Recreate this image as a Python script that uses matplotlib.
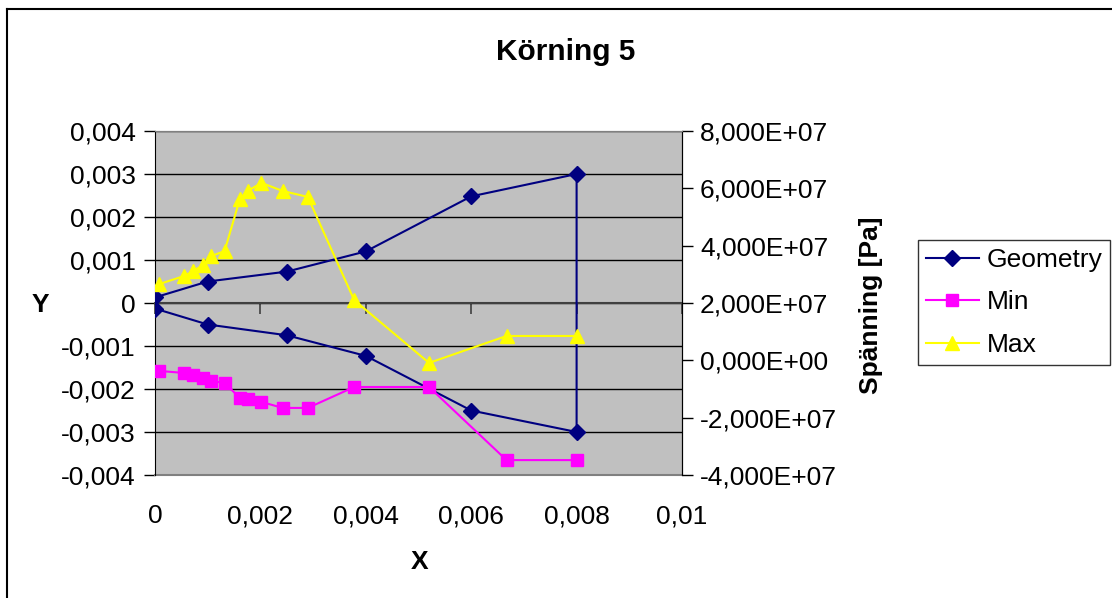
import matplotlib
matplotlib.use("Agg")
import matplotlib.pyplot as plt
from matplotlib.lines import Line2D
from matplotlib.ticker import FuncFormatter

plt.rcParams['font.family'] = ['Liberation Sans', 'DejaVu Sans']

# Geometry outline (left axis, metres)
geom_x = [0.0, 0.001, 0.0025, 0.004, 0.006, 0.008,
          0.008, 0.006, 0.004, 0.0025, 0.001, 0.0]
geom_y = [0.00013, 0.0005, 0.00073, 0.0012, 0.00248, 0.003,
          -0.003, -0.0025, -0.00123, -0.00075, -0.0005, -0.00013]

# Stress along the contour (right axis, Pa)
stress_x = [0.00008, 0.00055, 0.00073, 0.00092, 0.00107, 0.00132, 0.00161,
            0.00176, 0.00202, 0.00242, 0.0029, 0.00378, 0.0052, 0.00667, 0.008]
min_vals = [-0.37e7, -0.44e7, -0.51e7, -0.63e7, -0.72e7, -0.79e7, -1.31e7,
            -1.35e7, -1.45e7, -1.66e7, -1.66e7, -0.93e7, -0.93e7, -3.48e7, -3.48e7]
max_vals = [2.66e7, 2.94e7, 3.12e7, 3.33e7, 3.64e7, 3.81e7, 5.63e7,
            5.91e7, 6.19e7, 5.91e7, 5.70e7, 2.10e7, -0.09e7, 0.85e7, 0.85e7]

x_ticks = [0, 0.002, 0.004, 0.006, 0.008, 0.01]
y_ticks = [-0.004, -0.003, -0.002, -0.001, 0, 0.001, 0.002, 0.003, 0.004]
y2_ticks = [-4e7, -2e7, 0, 2e7, 4e7, 6e7, 8e7]

FS = 19
W, H = 1112, 598


def comma(v, pos=None):
    return f"{round(v, 6):g}".replace('.', ',')


def sci(v, pos=None):
    return f"{v:.3E}".replace('.', ',')


fig = plt.figure(figsize=(W / 100, H / 100), dpi=100)
ax = fig.add_axes([155 / W, 1 - 475 / H, 527 / W, 344 / H])
ax.set_facecolor('#C0C0C0')
ax.set_xlim(0, 0.01)
ax.set_ylim(-0.004, 0.004)
ax.set_yticks(y_ticks)
ax.set_xticks(x_ticks)
ax.yaxis.set_major_formatter(FuncFormatter(comma))
ax.yaxis.grid(True, color='black', lw=1.0)
ax.set_axisbelow(True)

# x axis crosses at y = 0; its labels sit below the plot area
ax.spines['bottom'].set_position(('data', 0))
ax.spines['bottom'].set_color('#404040')
ax.spines['bottom'].set_linewidth(1.5)
ax.tick_params(axis='x', direction='out', length=8, width=1.2,
               color='#404040', labelbottom=False)
ax.tick_params(axis='y', direction='out', length=8, width=1.0,
               labelsize=FS, pad=6)
ax.spines['left'].set_color('black')
ax.spines['top'].set_color('#808080')
for xv in x_ticks:
    ax.text(xv, -0.12, comma(xv), transform=ax.get_xaxis_transform(),
            ha='center', va='center', fontsize=FS)

# bottom border of the plot area
ax.add_artist(Line2D([0, 1], [0, 0], transform=ax.transAxes,
                     color='#808080', lw=1.5, clip_on=False))

l1, = ax.plot(geom_x, geom_y, color='#000080', lw=1.5, marker='D',
              markersize=8, label='Geometry', zorder=3)

ax2 = ax.twinx()
ax2.set_ylim(-4e7, 8e7)
ax2.set_yticks(y2_ticks)
ax2.yaxis.set_major_formatter(FuncFormatter(sci))
ax2.tick_params(axis='y', direction='out', length=8, width=1.0,
                labelsize=FS, pad=5)
ax2.spines['right'].set_color('black')
ax2.spines['bottom'].set_visible(False)
ax2.spines['top'].set_color('#808080')
ax2.spines['left'].set_visible(False)

l2, = ax2.plot(stress_x, min_vals, color='#FF00FF', lw=1.5, marker='s',
               markersize=9, label='Min')
l3, = ax2.plot(stress_x, max_vals, color='#FFFF00', lw=1.5, marker='^',
               markersize=10, label='Max')

leg = fig.legend(handles=[l1, l2, l3], loc='upper left',
                 bbox_to_anchor=(918 / W, 1 - 240 / H), fontsize=FS,
                 frameon=True, fancybox=False, edgecolor='black',
                 handlelength=2.0, handletextpad=0.3, labelspacing=0.7,
                 borderpad=0.3, borderaxespad=0)
leg.get_frame().set_linewidth(1.0)

fig.text(566 / W, 1 - 52 / H, 'Körning 5', ha='center', va='center',
         fontsize=21.5, fontweight='bold')
fig.text(40 / W, 1 - 305 / H, 'Y', ha='center', va='center',
         fontsize=FS, fontweight='bold')
fig.text(420 / W, 1 - 562 / H, 'X', ha='center', va='center',
         fontsize=FS, fontweight='bold')
fig.text(871 / W, 1 - 305 / H, 'Spänning [Pa]', ha='center', va='center',
         rotation=90, fontsize=FS, fontweight='bold')

# chart area border
fig.add_artist(Line2D([7 / W, 1], [1 - 9 / H, 1 - 9 / H], color='black',
                      lw=1.5, transform=fig.transFigure))
fig.add_artist(Line2D([7 / W, 7 / W], [0, 1 - 9 / H], color='black',
                      lw=1.5, transform=fig.transFigure))

fig.savefig('out.png', dpi=100)
